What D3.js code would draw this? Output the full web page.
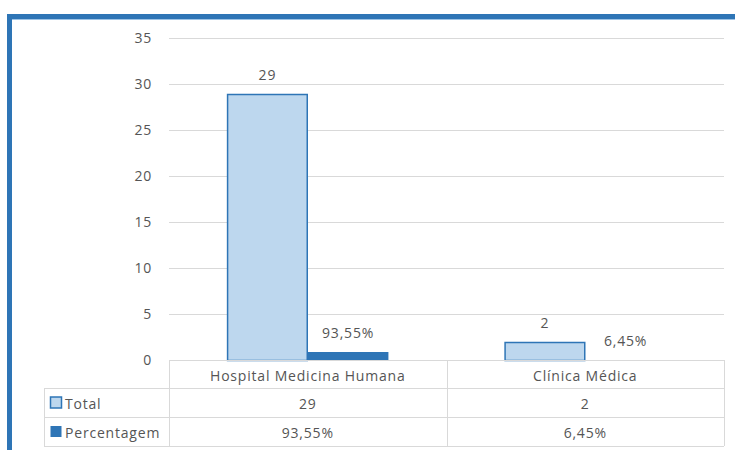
<!DOCTYPE html>
<html><head><meta charset="utf-8">
<script src="https://cdn.jsdelivr.net/npm/d3@7"></script>
<style>body{margin:0;background:#fff}svg{display:block}text{font-family:"Open Sans",sans-serif;fill:#555;letter-spacing:0.8px}</style>
</head><body>
<script>
const categories = ["Hospital Medicina Humana", "Clínica Médica"];
const seriesNames = ["Total", "Percentagem"];
const totalValues = [29, 2];
const percentValues = [0.9355, 0.0645];
const totalLabels = ["29", "2"];
const percentLabels = ["93,55%", "6,45%"];
const yTicks = [0, 5, 10, 15, 20, 25, 30, 35];

const W = 735, H = 450, FS = 14;
const svg = d3.select("body").append("svg").attr("width", W).attr("height", H);

// frame
svg.append("rect").attr("x", 9.5).attr("y", 16.5).attr("width", 800).attr("height", 500)
  .attr("fill", "none").attr("stroke", "#2E75B6").attr("stroke-width", 5);
svg.append("line").attr("x1", 12).attr("x2", W).attr("y1", 19.5).attr("y2", 19.5)
  .attr("stroke", "#9DC3E6").attr("stroke-width", 1);

const pLeft = 169, pRight = 724, pTop = 38, pBottom = 360;
const y = d3.scaleLinear().domain([0, 35]).range([pBottom, pTop]);
const x0 = d3.scaleBand().domain(categories).range([pLeft, pRight]).paddingInner(0).paddingOuter(0);
const x1 = d3.scaleBand().domain(seriesNames).range([0, x0.bandwidth()]).paddingInner(0).paddingOuter(0.72);

// gridlines
svg.append("g").selectAll("line").data(yTicks.filter(d => d > 0)).join("line")
  .attr("x1", pLeft).attr("x2", pRight)
  .attr("y1", d => Math.round(y(d)) + 0.5).attr("y2", d => Math.round(y(d)) + 0.5)
  .attr("stroke", "#d9d9d9").attr("stroke-width", 1);

// y axis labels
const yAxis = d3.axisLeft(y).tickValues(yTicks).tickSize(0).tickPadding(0).tickFormat(d3.format("d"));
const ya = svg.append("g").attr("transform", "translate(152,0)").call(yAxis);
ya.select(".domain").remove();
ya.selectAll("text").attr("font-size", FS).attr("fill", "#555").attr("font-family", "Open Sans, sans-serif");

const sets = [
  {name: "Total", values: totalValues, labels: totalLabels, fill: "#BDD7EE", stroke: "#2E75B6"},
  {name: "Percentagem", values: percentValues, labels: percentLabels, fill: "#2E75B6", stroke: "none"}
];

sets.forEach(s => {
  const g = svg.append("g");
  const st = s.stroke !== "none";
  const h = v => Math.floor(pBottom - y(v));
  g.selectAll("rect").data(categories).join("rect")
    .attr("x", (c) => x0(c) + x1(s.name) + (st ? 0.5 : 0))
    .attr("y", (c, i) => pBottom - h(s.values[i]) + (st ? 0.5 : 0))
    .attr("width", x1.bandwidth() - (st ? 1 : 0))
    .attr("height", (c, i) => h(s.values[i]))
    .attr("fill", s.fill).attr("stroke", s.stroke).attr("stroke-width", 1.5);
  g.selectAll("text").data(categories).join("text")
    .attr("x", c => x0(c) + x1(s.name) + x1.bandwidth() / 2)
    .attr("y", (c, i) => y(s.values[i]) - 19)
    .attr("text-anchor", "middle").attr("font-size", FS)
    .attr("dominant-baseline", "central")
    .text((c, i) => s.labels[i]);
});

// data table
const rowH = [360, 388, 417, 446];
const tLeft = 44;
const tg = svg.append("g").attr("stroke", "#d9d9d9").attr("stroke-width", 1);
tg.append("line").attr("x1", pLeft).attr("x2", pRight).attr("y1", rowH[0] + 0.5).attr("y2", rowH[0] + 0.5);
[1, 2, 3].forEach(i => tg.append("line").attr("x1", tLeft).attr("x2", pRight).attr("y1", rowH[i] + 0.5).attr("y2", rowH[i] + 0.5));
tg.append("line").attr("x1", tLeft + 0.5).attr("x2", tLeft + 0.5).attr("y1", rowH[1]).attr("y2", rowH[3]);
[pLeft, x0(categories[1]), pRight].forEach(xx => tg.append("line").attr("x1", Math.round(xx) + 0.5).attr("x2", Math.round(xx) + 0.5).attr("y1", rowH[0]).attr("y2", rowH[3]));

const tt = svg.append("g");
categories.forEach((c, i) => {
  const cx = x0(c) + x0.bandwidth() / 2;
  tt.append("text").attr("x", cx).attr("y", (rowH[0] + rowH[1]) / 2 + 1).attr("text-anchor", "middle")
    .attr("dominant-baseline", "central").attr("font-size", FS).text(c);
  tt.append("text").attr("x", cx).attr("y", (rowH[1] + rowH[2]) / 2 + 1).attr("text-anchor", "middle")
    .attr("dominant-baseline", "central").attr("font-size", FS).text(totalLabels[i]);
  tt.append("text").attr("x", cx).attr("y", (rowH[2] + rowH[3]) / 2 + 1).attr("text-anchor", "middle")
    .attr("dominant-baseline", "central").attr("font-size", FS).text(percentLabels[i]);
});
sets.forEach((s, i) => {
  const cy = (rowH[i + 1] + rowH[i + 2]) / 2;
  tt.append("rect").attr("x", 50.5).attr("y", cy - 5.5).attr("width", 11).attr("height", 11)
    .attr("fill", s.fill).attr("stroke", s.stroke).attr("stroke-width", 1.5);
  tt.append("text").attr("x", 65).attr("y", cy + 1).attr("dominant-baseline", "central")
    .attr("font-size", FS).text(s.name);
});
</script>
</body></html>
